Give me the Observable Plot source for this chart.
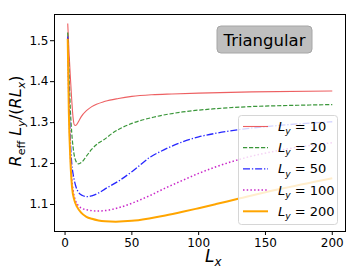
<!DOCTYPE html>
<html>
<head>
<meta charset="utf-8">
<script src="https://cdn.jsdelivr.net/npm/d3@7"></script>
<script src="https://cdn.jsdelivr.net/npm/@observablehq/plot@0.6"></script>
<style>
  html, body { margin: 0; padding: 0; background: #fff; }
  svg { display: block; }
</style>
</head>
<body>
<div id="chart"></div>
<script>
// ---- data ----
const seriesNames = ["10", "20", "50", "100", "200"];
const lx10 = [2, 3, 4, 5, 6, 7, 8, 10, 12, 16, 20, 30, 40, 50, 65, 80, 100, 140, 200];
const r10  = [1.542, 1.47, 1.41, 1.355, 1.312, 1.294, 1.293, 1.302, 1.314, 1.329, 1.339, 1.352, 1.359, 1.364, 1.368, 1.370, 1.372, 1.375, 1.377];
const lx20 = [2, 3, 4, 5, 6, 7, 8, 9, 10, 11, 13, 16, 20, 25, 29, 35, 41, 50, 66, 88, 113, 138, 170, 200];
const r20  = [1.52, 1.42, 1.33, 1.275, 1.24, 1.218, 1.207, 1.201, 1.199, 1.200, 1.205, 1.218, 1.235, 1.250, 1.258, 1.273, 1.285, 1.298, 1.313, 1.326, 1.334, 1.339, 1.342, 1.344];
const lx50 = [2, 3, 4, 5, 6, 7, 8, 10, 13, 17, 20, 25, 30, 40, 50, 63, 75, 88, 100, 113, 133, 160, 200];
const r50  = [1.51, 1.36, 1.255, 1.20, 1.175, 1.158, 1.145, 1.13, 1.122, 1.119, 1.121, 1.128, 1.138, 1.157, 1.180, 1.214, 1.235, 1.253, 1.265, 1.274, 1.284, 1.293, 1.302];
const lx100 = [2, 3, 4, 5, 6, 8, 10, 13, 18, 24, 30, 40, 50, 63, 75, 88, 100, 113, 136, 160, 200];
const r100  = [1.505, 1.33, 1.22, 1.165, 1.135, 1.108, 1.097, 1.09, 1.086, 1.084, 1.085, 1.092, 1.103, 1.121, 1.140, 1.159, 1.176, 1.192, 1.215, 1.232, 1.251];
const lx200 = [2, 2.8, 4, 5.2, 7, 9, 12, 16, 20, 25, 30, 38, 50, 63, 75, 88, 100, 113, 131, 160, 200];
const r200  = [1.505, 1.33, 1.208, 1.143, 1.11, 1.094, 1.08, 1.07, 1.065, 1.061, 1.059, 1.058, 1.060, 1.066, 1.073, 1.082, 1.091, 1.101, 1.115, 1.137, 1.164];
const xTicks = [0, 50, 100, 150, 200];
const yTicks = [1.1, 1.2, 1.3, 1.4, 1.5];
const boxLabel = "Triangular";

// ---- styles ----
const styles = {
  "10":  {stroke: "#e8383b", strokeWidth: 1.1, strokeOpacity: 0.8, dash: null},
  "20":  {stroke: "#238b23", strokeWidth: 1.2, strokeOpacity: 0.9, dash: "4.2,1.8"},
  "50":  {stroke: "#0000ff", strokeWidth: 1.3, strokeOpacity: 0.85, dash: "7,1.9,1.3,1.9"},
  "100": {stroke: "#bf00bf", strokeWidth: 1.5, strokeOpacity: 0.85, dash: "1.5,2.2"},
  "200": {stroke: "#ffa500", strokeWidth: 2, strokeOpacity: 1, dash: null}
};
const xs = [lx10, lx20, lx50, lx100, lx200];
const ys = [r10, r20, r50, r100, r200];
const tables = seriesNames.map((s, i) => xs[i].map((x, j) => ({Lx: x, R: ys[i][j], Ly: s})));

const FONT = "DejaVu Sans, sans-serif";
const W = 363, H = 273;
const mL = 54, mR = 18, mT = 14, mB = 42;

const svg = Plot.plot({
  width: W, height: H,
  marginLeft: mL, marginRight: mR, marginTop: mT, marginBottom: mB,
  style: {fontFamily: FONT, fontSize: "12px", color: "#000", background: "#fff", overflow: "visible"},
  x: {domain: [-7.9, 209.9], label: null},
  y: {domain: [1.034, 1.564], label: null},
  marks: [
    ...tables.map((t, i) => {
      const st = styles[seriesNames[i]];
      return Plot.line(t, {x: "Lx", y: "R", curve: "monotone-x",
        stroke: st.stroke, strokeWidth: st.strokeWidth, strokeOpacity: st.strokeOpacity,
        strokeDasharray: st.dash, strokeLinecap: "butt"});
    }),
    Plot.frame({stroke: "#000", strokeWidth: 1}),
    Plot.axisX({ticks: xTicks, tickSize: 4, tickPadding: 3, fontSize: 12, label: null, stroke: "#000"}),
    Plot.axisY({ticks: yTicks, tickSize: 4, tickPadding: 2, fontSize: 12, label: null, tickFormat: d3.format(".1f"), stroke: "#000"})
  ]
});
document.getElementById("chart").appendChild(svg);

const root = d3.select(svg);

// helper: math-like text with subscripts
function mathText(g, parts, size, anchor) {
  const t = g.append("text").attr("font-family", FONT).attr("font-size", size)
    .attr("fill", "#000").attr("text-anchor", anchor || "start");
  parts.forEach(p => {
    const ts = t.append("tspan").text(p.t);
    if (p.i) ts.attr("font-style", "italic");
    if (p.sub) {
      ts.attr("font-size", size * 0.7).attr("dy", size * 0.25);
    }
    if (p.up) ts.attr("dy", -size * 0.25);
  });
  return t;
}

// Title box
const tb = root.append("g");
tb.append("rect").attr("x", 217).attr("y", 26).attr("width", 95).attr("height", 27)
  .attr("rx", 4).attr("fill", "#bfbfbf").attr("stroke", "#a6a6a6").attr("stroke-width", 1);
tb.append("text").attr("x", 264.5).attr("y", 45.5).attr("text-anchor", "middle")
  .attr("font-family", FONT).attr("font-size", 16.5).attr("fill", "#000").text(boxLabel);

// Legend
const lg = root.append("g");
lg.append("rect").attr("x", 238.5).attr("y", 115.5).attr("width", 99).attr("height", 109)
  .attr("rx", 3).attr("fill", "#fff").attr("fill-opacity", 0.8).attr("stroke", "#d6d6d6").attr("stroke-width", 1);
seriesNames.forEach((s, i) => {
  const st = styles[s];
  const yy = 126.5 + i * 21.2;
  lg.append("line").attr("x1", 243).attr("x2", 268).attr("y1", yy).attr("y2", yy)
    .attr("stroke", st.stroke).attr("stroke-width", st.strokeWidth).attr("stroke-opacity", st.strokeOpacity)
    .attr("stroke-dasharray", st.dash);
  const t = mathText(lg, [{t: "L", i: true}, {t: "y", i: true, sub: true}, {t: " = " + s, up: true}], 13, "start");
  t.attr("x", 278).attr("y", yy + 4.5);
});

// Y label
const yl = root.append("g").attr("transform", "translate(21,121) rotate(-90)");
const ylt = mathText(yl, [
  {t: "R", i: true}, {t: "eff", sub: true}, {t: " ", up: true},
  {t: "L", i: true}, {t: "y", i: true, sub: true}, {t: "/(", up: true},
  {t: "R", i: true}, {t: "L", i: true}, {t: "x", i: true, sub: true}, {t: ")", up: true}
], 16, "middle");
ylt.attr("x", 0).attr("y", 0);

// X label
const xlt = mathText(root, [{t: "L", i: true}, {t: "x", i: true, sub: true}], 17, "start");
xlt.attr("x", 205).attr("y", 262);
</script>
</body>
</html>
